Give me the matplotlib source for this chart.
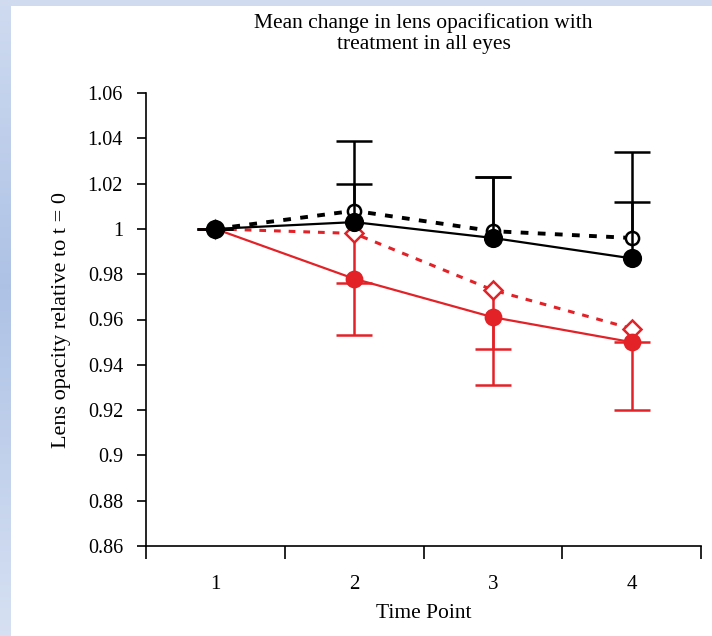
import numpy as np
import matplotlib
matplotlib.use("Agg")
import matplotlib.pyplot as plt
from matplotlib.ticker import FuncFormatter, FixedLocator

plt.rcParams['font.family'] = ['Liberation Serif', 'DejaVu Serif']

# ---- data ----
time_points = [1, 2, 3, 4]
tick_labels = ["1", "2", "3", "4"]

black_solid = [1.000, 1.003, 0.996, 0.987]
black_solid_err_up = [0.0, 0.017, 0.027, 0.025]

black_dashed = [1.000, 1.008, 0.999, 0.996]
black_dashed_err_up = [0.0, 0.031, 0.024, 0.038]

red_solid = [1.000, 0.978, 0.961, 0.950]
red_solid_err_dn = [0.0, 0.025, 0.030, 0.030]

red_dashed = [1.000, 0.998, 0.973, 0.956]
red_dashed_err_dn = [0.0, 0.022, 0.026, 0.006]

title = "Mean change in lens opacification with\ntreatment in all eyes"
xlabel = "Time Point"
ylabel = "Lens opacity relative to t = 0"

RED = '#e32228'
W, H = 712, 636
fig = plt.figure(figsize=(W / 100, H / 100), dpi=100)

# background decoration (blue slide border)
bg = fig.add_axes([0, 0, 1, 1], zorder=-10)
bg.set_axis_off()
grad = np.linspace(0, 1, H)
prof = np.clip(1 - np.abs(grad - 0.45) / 0.55, 0, 1)
c_light = np.array([0.84, 0.88, 0.95])
c_dark = np.array([0.68, 0.76, 0.90])
col = c_light[None, :] * (1 - prof[:, None]) + c_dark[None, :] * prof[:, None]
img = np.ones((H, W, 3))
img[:, :11, :] = col[:, None, :]
img[:6, :, :] = np.array([0.82, 0.86, 0.94])
bg.imshow(img, extent=[0, 1, 0, 1], aspect='auto', origin='upper', interpolation='nearest')
bg.set_xlim(0, 1)
bg.set_ylim(0, 1)

ax = fig.add_axes([146 / W, 1 - 546 / H, (701 - 146) / W, (546 - 93) / H])
ax.patch.set_alpha(0)

def draw(y, err, color, ls, marker, mfc, ms, lw, up, z):
    zeros = [0.0] * len(err)
    yerr = [zeros, err] if up else [err, zeros]
    _, caps, bars = ax.errorbar(time_points, y, yerr=yerr, fmt='none',
                                ecolor=color, elinewidth=1.8, capsize=13,
                                capthick=1.8, zorder=z)
    caps[0 if up else 1].set_visible(False)
    ax.plot(time_points, y, color=color, ls=ls, lw=lw, marker=marker,
            mfc=mfc, mec=color, ms=ms, mew=1.8, zorder=z + 1)

draw(red_dashed, red_dashed_err_dn, RED, (0, (2.2, 2.6)), 'D', 'white', 9.5, 2.2, False, 2)
draw(red_solid, red_solid_err_dn, RED, '-', 'o', RED, 11, 1.6, False, 4)
draw(black_dashed, black_dashed_err_up, 'black', (0, (2.0, 2.4)), 'o', 'white', 9.5, 2.8, True, 6)
draw(black_solid, black_solid_err_up, 'black', '-', 'o', 'black', 12, 1.6, True, 8)

ax.set_xlim(0.5, 4.5)
ax.set_ylim(0.86, 1.06)
ax.xaxis.set_major_locator(FixedLocator([0.5, 1.5, 2.5, 3.5, 4.5]))
ax.set_xticklabels([])
ax.xaxis.set_minor_locator(FixedLocator(time_points))
ax.xaxis.set_minor_formatter(FuncFormatter(lambda v, p: tick_labels[int(round(v)) - 1]))
ax.tick_params(axis='x', which='minor', length=0, pad=21, labelsize=15)
ax.tick_params(axis='x', which='major', direction='out', length=9.5, width=1.2)
ax.set_yticks(np.arange(0.86, 1.0601, 0.02))
ax.yaxis.set_major_formatter(FuncFormatter(lambda v, p: f"{v:.2f}".rstrip('0').rstrip('.')))
ax.tick_params(axis='y', direction='out', length=6.5, width=1.2, labelsize=14.5, pad=10)

for s in ['top', 'right']:
    ax.spines[s].set_visible(False)
for s in ['left', 'bottom']:
    ax.spines[s].set_linewidth(1.2)

ax.set_title(title, fontsize=15.5, linespacing=1.08, pad=32)
ax.set_xlabel(xlabel, fontsize=15.5, labelpad=7)
ax.set_ylabel(ylabel, fontsize=16, labelpad=12)

fig.savefig("out.png", dpi=100)
